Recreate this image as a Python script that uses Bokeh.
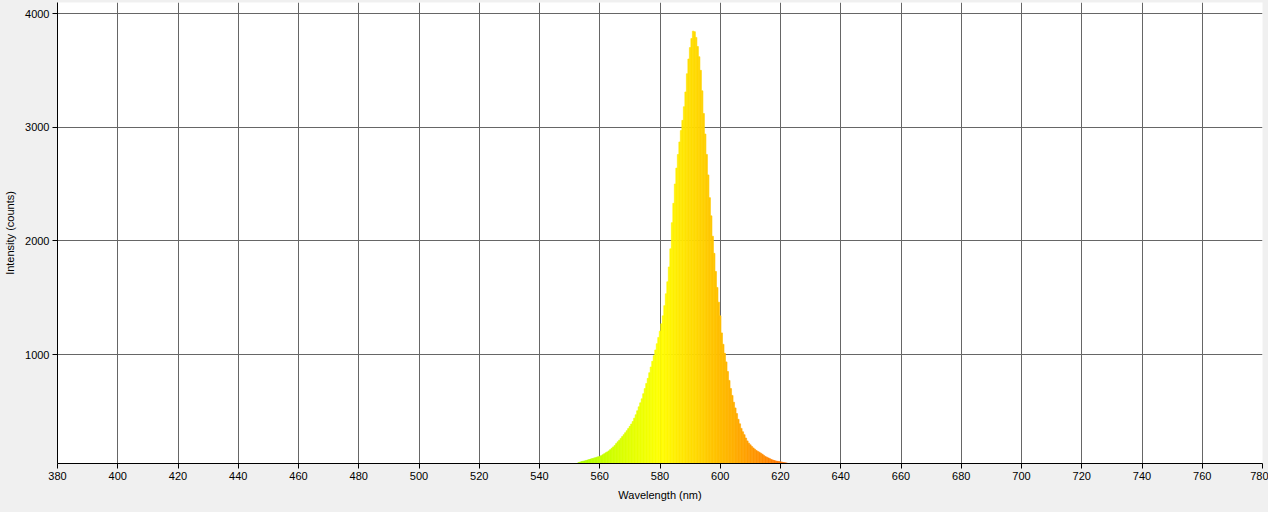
from bokeh.plotting import figure
from bokeh.models import Range1d, FixedTicker, ColumnDataSource
from bokeh.embed import file_html
from bokeh.resources import INLINE

# ---- data (0.5 nm steps, 553.0 .. 622.0 nm) ----
intensity_counts = [
    50, 54, 58, 61, 64, 68, 72, 76, 80, 84,             # 553.0-557.5
    88, 92, 96, 100, 103, 110, 118, 126, 135, 143,      # 558.0-562.5
    152, 163, 175, 187, 200, 216, 232, 246, 262, 278,   # 563.0-567.5
    295, 312, 330, 348, 368, 388, 410, 440, 470, 505,   # 568.0-572.5
    540, 575, 610, 655, 700, 745, 790, 840, 890, 940,   # 573.0-577.5
    990, 1040, 1095, 1150, 1205, 1270, 1340, 1430, 1534, 1640,   # 578.0-582.5
    1770, 1930, 2160, 2330, 2500, 2640, 2760, 2870, 2970, 3060,  # 583.0-587.5
    3180, 3310, 3470, 3600, 3700, 3780, 3845, 3840, 3790, 3710,  # 588.0-592.5
    3620, 3500, 3320, 3120, 2940, 2760, 2580, 2380, 2220, 2040,  # 593.0-597.5
    1890, 1730, 1590, 1460, 1340, 1190, 1090, 1010, 935, 850,    # 598.0-602.5
    772, 700, 640, 580, 530, 480, 430, 390, 350, 320,   # 603.0-607.5
    295, 265, 240, 220, 205, 190, 178, 166, 155, 147,   # 608.0-612.5
    140, 131, 122, 112, 102, 96, 90, 83, 76, 71,        # 613.0-617.5
    67, 63, 60, 58, 56, 53, 50, 48, 46,                 # 618.0-622.0
]
wl_start_nm = 553.0
wl_step_nm = 0.5
wavelength_nm = [wl_start_nm + wl_step_nm * i for i in range(len(intensity_counts))]
x_ticks = list(range(380, 781, 20))
y_ticks = [1000, 2000, 3000, 4000]
x_title = "Wavelength (nm)"
y_title = "Intensity (counts)"


def wl_color(w):
    if w < 510:
        r, g = 0.0, 1.0
    elif w < 580:
        r, g = (w - 510) / 70.0, 1.0
    else:
        r, g = 1.0, max(0.0, (645 - w) / 65.0)
    r, g = r ** 0.8, g ** 0.8
    return "#%02x%02x00" % (int(round(r * 255)), int(round(g * 255)))


colors = [wl_color(w) for w in wavelength_nm]
src = ColumnDataSource(dict(x=wavelength_nm, top=intensity_counts, c=colors))

p = figure(width=1268, height=512, output_backend="svg", toolbar_location=None,
           x_range=Range1d(380, 780), y_range=Range1d(41, 4097),
           min_border_left=57, min_border_right=6, min_border_top=2, min_border_bottom=49)
p.background_fill_color = "white"
p.border_fill_color = "#f0f0f0"
p.outline_line_color = None

p.vbar(x="x", width=wl_step_nm, top="top", bottom=0, source=src,
       fill_color="c", line_color="c", line_width=0.6)

p.xaxis.ticker = FixedTicker(ticks=x_ticks)
p.yaxis.ticker = FixedTicker(ticks=y_ticks)
p.xgrid.ticker = FixedTicker(ticks=x_ticks)
p.ygrid.ticker = FixedTicker(ticks=y_ticks)
for g in (p.xgrid, p.ygrid):
    g.grid_line_color = "#666666"
    g.grid_line_width = 1
    g.grid_line_alpha = 1.0

for ax in (p.xaxis, p.yaxis):
    ax.axis_line_color = "black"
    ax.axis_line_width = 1
    ax.major_tick_line_color = "black"
    ax.major_tick_out = 5
    ax.major_tick_in = 0
    ax.minor_tick_out = 0
    ax.minor_tick_in = 0
    ax.major_label_text_font = "Liberation Sans"
    ax.major_label_text_font_size = "11px"
    ax.major_label_text_color = "black"
    ax.axis_label_text_font = "Liberation Sans"
    ax.axis_label_text_font_size = "11px"
    ax.axis_label_text_font_style = "normal"
    ax.axis_label_text_color = "black"

p.xaxis.axis_label = x_title
p.yaxis.axis_label = y_title
p.xaxis.major_label_standoff = 3
p.xaxis.axis_label_standoff = 6
p.yaxis.major_label_standoff = 3
p.yaxis.axis_label_standoff = 6

html = file_html(p, INLINE)
html = html.replace("<head>", "<head><style>html,body{margin:0;padding:0;background:#f0f0f0;overflow:hidden}</style>", 1)
open("out.html", "w").write(html)
